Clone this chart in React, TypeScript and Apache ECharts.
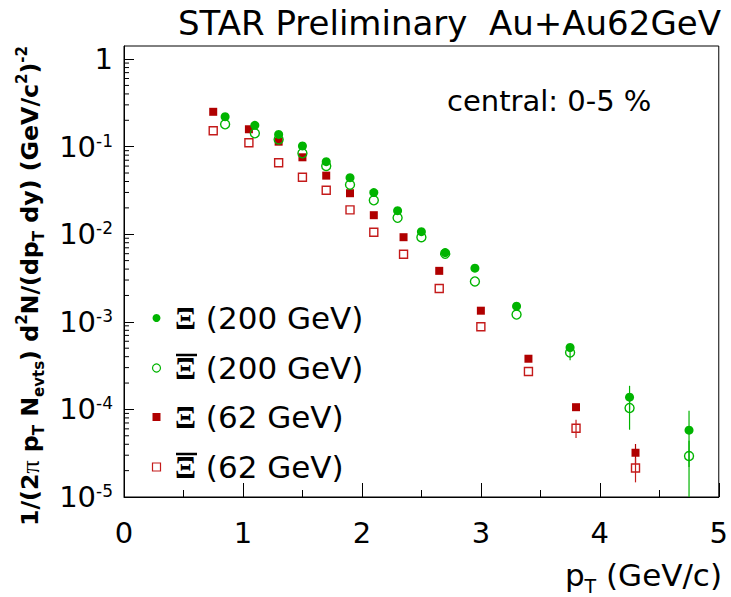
import React, { useEffect, useRef } from 'react';
import * as echarts from 'echarts';

// ---- data ----
const ptXi200 = [0.85, 1.1, 1.3, 1.5, 1.7, 1.9, 2.1, 2.3, 2.5, 2.7, 2.95, 3.3, 3.75, 4.25, 4.75];
const xi200 = [0.22, 0.175, 0.138, 0.102, 0.0674, 0.0443, 0.0299, 0.0186, 0.0107, 0.00618, 0.0041, 0.00151, 0.000509, 0.000138, 5.8e-5];
const antiXi200 = [0.18, 0.142, 0.121, 0.084, 0.0602, 0.0368, 0.0244, 0.0154, 0.00925, 0.006, 0.00289, 0.00121, 0.000447, 0.000104, 2.94e-5];
const ptXi62 = [0.75, 1.05, 1.3, 1.5, 1.7, 1.9, 2.1, 2.35, 2.65, 3.0, 3.4, 3.8, 4.3];
const xi62 = [0.25, 0.158, 0.114, 0.0756, 0.0467, 0.0294, 0.0165, 0.00925, 0.00382, 0.00134, 0.000379, 0.000106, 3.2e-5];
const antiXi62 = [0.152, 0.111, 0.0656, 0.0447, 0.0318, 0.019, 0.01055, 0.0059, 0.0024, 0.000877, 0.000271, 6.1e-5, 2.14e-5];

// error bars: [pT, low, high]
const errXi200 = [[3.75, 4.8e-4, 5.4e-4], [4.25, 9.9e-5, 1.86e-4], [4.75, 2.2e-5, 9.66e-5]];
const errAntiXi200 = [[3.75, 3.65e-4, 5.3e-4], [4.25, 5.86e-5, 1.5e-4], [4.75, 1e-6, 4.4e-5]];
const errXi62 = [[4.3, 2.4e-5, 4.03e-5]];
const errAntiXi62 = [[3.8, 4.72e-5, 7.6e-5], [4.3, 1.47e-5, 2.8e-5]];

const seriesNames = ['Ξ (200 GeV)', 'anti-Ξ (200 GeV)', 'Ξ (62 GeV)', 'anti-Ξ (62 GeV)'];
const legendLabels = [' (200 GeV)', ' (200 GeV)', ' (62 GeV)', ' (62 GeV)'];
const legendAnti = [false, true, false, true];
const yDecades = [-5, -4, -3, -2, -1, 0];
const minorMultipliers = [2, 3, 4, 5, 6, 7, 8, 9];
const yMin = 1e-5;
const yMax = 1.41;

const GREEN = '#00b400';
const RED = '#b00000';
const RED_OPEN = '#c41a1a';
const FONT = 'DejaVu Sans';

export default function App() {
  const ref = useRef<HTMLDivElement>(null);
  useEffect(() => {
    if (!ref.current) return;
    const chart = echarts.init(ref.current, null, { renderer: 'svg' });

    const minorTicks: number[][] = [];
    yDecades.forEach((d) => {
      minorMultipliers.forEach((m) => {
        const v = m * Math.pow(10, d);
        if (v < yMax) minorTicks.push([0, v]);
      });
    });

    const errRender = (color: string) => (params: any, api: any) => {
      const x = api.value(0);
      const lo = api.value(1);
      const hi = api.value(2);
      const p1 = api.coord([x, Math.max(lo, yMin)]);
      const p2 = api.coord([x, hi]);
      const cs = params.coordSys;
      const yb = cs.y + cs.height;
      return {
        type: 'line',
        shape: { x1: p1[0], y1: Math.min(p1[1], yb), x2: p2[0], y2: Math.max(p2[1], cs.y) },
        style: { stroke: color, lineWidth: 1.2 },
        silent: true,
      };
    };

    const errSeries = (data: number[][], color: string) => ({
      type: 'custom',
      renderItem: errRender(color),
      data,
      dimensions: ['x', 'lo', 'hi'],
      encode: { x: 0, y: [1, 2] },
      z: 1,
      silent: true,
    });

    // legend drawn as graphic elements (marker + rich text + overbar for anti-particles)
    const legendMarkers = [
      { type: 'circle', shape: { r: 4 }, style: { fill: GREEN } },
      { type: 'circle', shape: { r: 4 }, style: { fill: 'none', stroke: GREEN, lineWidth: 1.2 } },
      { type: 'rect', shape: { x: -4, y: -4, width: 8, height: 8 }, style: { fill: RED } },
      { type: 'rect', shape: { x: -4, y: -4, width: 8, height: 8 }, style: { fill: 'none', stroke: RED_OPEN, lineWidth: 1.2 } },
    ];
    const rowY = [318, 368, 417, 467];
    const legendGraphics: any[] = [];
    seriesNames.forEach((_, i) => {
      const children: any[] = [
        { ...legendMarkers[i], x: 156.5, y: 0 },
        {
          type: 'text',
          x: 175,
          y: 0,
          style: {
            text: `{xi|Ξ}${legendLabels[i]}`,
            fontFamily: FONT, fontSize: 31, fill: '#000', verticalAlign: 'middle', align: 'left',
            lineHeight: 36,
            rich: {
              xi: { fontFamily: 'Liberation Serif', fontWeight: 'bold', fontSize: 31, lineHeight: 36, fill: '#000' },
            },
          },
        },
      ];
      if (legendAnti[i]) {
        children.push({
          type: 'line',
          shape: { x1: 176, y1: -13, x2: 197, y2: -13 },
          style: { stroke: '#000', lineWidth: 2.5 },
        });
      }
      legendGraphics.push({ type: 'group', x: 0, y: rowY[i], children });
    });

    const option: any = {
      animation: false,
      title: {
        text: 'STAR Preliminary  Au+Au62GeV',
        left: 173,
        top: 1,
        textStyle: { fontFamily: FONT, fontWeight: 'normal', fontSize: 34, color: '#000' },
      },
      grid: {
        left: 124, top: 46, width: 599, height: 451,
        show: true, borderColor: '#000', borderWidth: 1, backgroundColor: 'transparent',
      },
      xAxis: {
        type: 'value',
        min: 0,
        max: 5,
        interval: 1,
        axisLine: { show: true, lineStyle: { color: '#000', width: 1 } },
        axisTick: { show: true, inside: true, length: 14, lineStyle: { color: '#000' } },
        minorTick: { show: true, splitNumber: 2, length: 7, lineStyle: { color: '#000' } },
        splitLine: { show: false },
        axisLabel: { fontFamily: FONT, fontSize: 29, color: '#000', margin: 21 },
      },
      yAxis: {
        type: 'log',
        logBase: 10,
        min: yMin,
        max: yMax,
        axisLine: { show: true, lineStyle: { color: '#000', width: 1 } },
        axisTick: { show: true, inside: true, length: 10, lineStyle: { color: '#000' } },
        splitLine: { show: false },
        axisLabel: {
          fontFamily: FONT, fontSize: 29, color: '#000', margin: 11,
          showMaxLabel: false,
          formatter: (v: number) => {
            const l = Math.log10(v);
            const e = Math.round(l);
            if (Math.abs(l - e) > 1e-6) return '';
            if (e === 0) return '1';
            return `10{sup|${e}}`;
          },
          rich: {
            sup: { fontFamily: FONT, fontSize: 17, lineHeight: 16, verticalAlign: 'top', color: '#000' },
          },
        },
      },
      graphic: [
        {
          type: 'text',
          left: 447,
          top: 86,
          style: { text: 'central: 0-5 %', fontFamily: FONT, fontSize: 29, fill: '#000' },
        },
        ...legendGraphics,
        {
          type: 'text',
          x: 722,
          y: 575,
          style: {
            text: 'p{sub|T} (GeV/c)',
            fontFamily: FONT, fontSize: 31, fill: '#000', align: 'right', verticalAlign: 'middle',
            lineHeight: 40,
            rich: {
              sub: { fontFamily: FONT, fontSize: 19, lineHeight: 18, verticalAlign: 'bottom', fill: '#000' },
            },
          },
        },
        {
          type: 'text',
          x: 30,
          y: 286,
          rotation: Math.PI / 2,
          style: {
            text: '1/(2{pi|π} p{sub|T} N{sub|evts}) d{sup|2}N/(dp{sub|T} dy) (GeV/c{sup|2}){sup|-2}',
            fontFamily: FONT, fontWeight: 'bold', fontSize: 23.7, fill: '#000',
            align: 'center', verticalAlign: 'middle', lineHeight: 32,
            rich: {
              sub: { fontFamily: FONT, fontWeight: 'bold', fontSize: 15, lineHeight: 15, verticalAlign: 'bottom', fill: '#000' },
              sup: { fontFamily: FONT, fontWeight: 'bold', fontSize: 15, lineHeight: 15, verticalAlign: 'top', fill: '#000' },
              pi: { fontFamily: 'Liberation Serif', fontWeight: 'normal', fontSize: 26, lineHeight: 32, fill: '#000' },
            },
          },
        },
      ],
      series: [
        {
          type: 'custom',
          silent: true,
          data: minorTicks,
          renderItem: (params: any, api: any) => {
            const p = api.coord([0, api.value(1)]);
            const cs = params.coordSys;
            return {
              type: 'line',
              shape: { x1: cs.x, y1: p[1], x2: cs.x + 5, y2: p[1] },
              style: { stroke: '#000', lineWidth: 1 },
            };
          },
        },
        errSeries(errXi62, RED),
        errSeries(errAntiXi62, RED_OPEN),
        errSeries(errXi200, GREEN),
        errSeries(errAntiXi200, GREEN),
        {
          name: seriesNames[2], type: 'scatter', symbol: 'rect', symbolSize: 8,
          data: ptXi62.map((x, i) => [x, xi62[i]]),
          itemStyle: { color: RED, opacity: 1 }, z: 3,
        },
        {
          name: seriesNames[3], type: 'scatter', symbol: 'rect', symbolSize: 8,
          data: ptXi62.map((x, i) => [x, antiXi62[i]]),
          itemStyle: { color: 'transparent', borderColor: RED_OPEN, borderWidth: 1.4, opacity: 1 }, z: 3,
        },
        {
          name: seriesNames[0], type: 'scatter', symbol: 'circle', symbolSize: 9,
          data: ptXi200.map((x, i) => [x, xi200[i]]),
          itemStyle: { color: GREEN, opacity: 1 }, z: 4,
        },
        {
          name: seriesNames[1], type: 'scatter', symbol: 'circle', symbolSize: 9,
          data: ptXi200.map((x, i) => [x, antiXi200[i]]),
          itemStyle: { color: 'transparent', borderColor: GREEN, borderWidth: 1.4, opacity: 1 }, z: 4,
        },
      ],
    };

    chart.setOption(option);
    return () => chart.dispose();
  }, []);

  return (
    <div
      ref={ref}
      style={{ position: 'fixed', left: 0, top: 0, width: 731, height: 597, background: '#fff' }}
    />
  );
}
